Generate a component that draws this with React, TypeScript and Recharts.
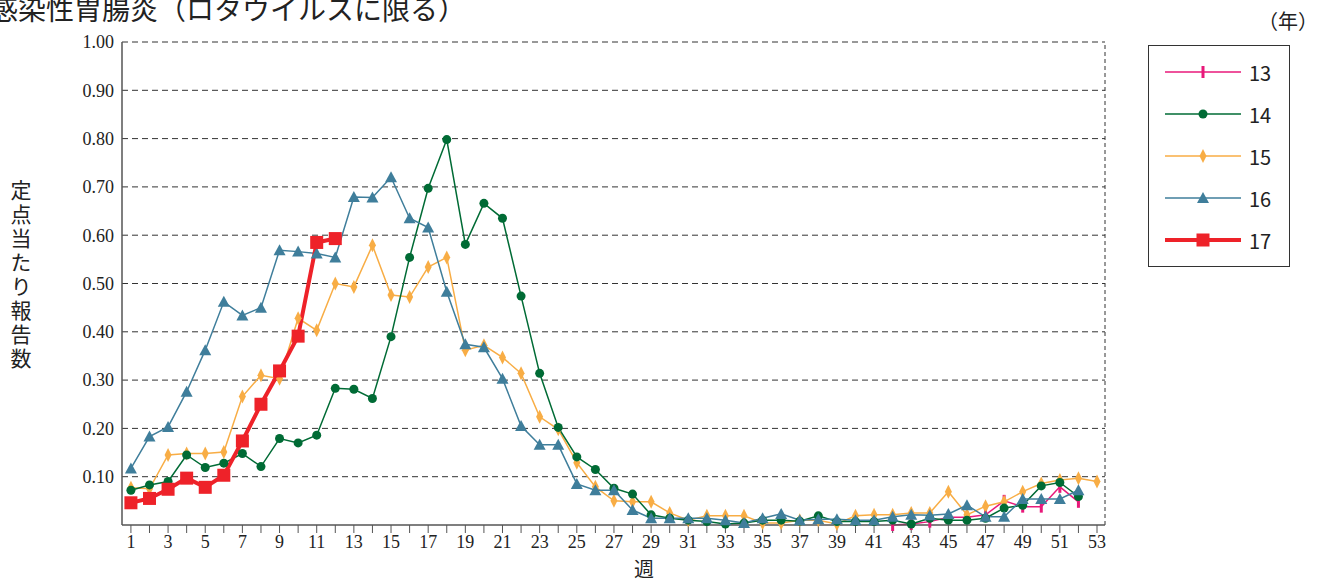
import React from 'react';
import { LineChart, Line, XAxis, YAxis, CartesianGrid, ReferenceLine } from 'recharts';

const weeks = Array.from({ length: 53 }, (_, i) => i + 1);

const y13: (number | null)[] = [
  null, null, null, null, null, null, null, null, null, null,
  null, null, null, null, null, null, null, null, null, null,
  null, null, null, null, null, null, null, null, null, null,
  null, null, null, null, null, null, null, null, null, null,
  null, 0.0, 0.002, 0.007, 0.016, 0.016, 0.021, 0.05, 0.038, 0.038,
  0.079, 0.048, null,
];
const y14: (number | null)[] = [
  0.072, 0.083, 0.09, 0.145, 0.119, 0.128, 0.148, 0.121, 0.179, 0.17,
  0.186, 0.283, 0.281, 0.262, 0.39, 0.554, 0.697, 0.798, 0.581, 0.666,
  0.635, 0.474, 0.314, 0.202, 0.141, 0.115, 0.076, 0.064, 0.021, 0.014,
  0.01, 0.007, 0.002, 0.004, 0.01, 0.01, 0.008, 0.019, 0.007, 0.007,
  0.007, 0.01, 0.002, 0.014, 0.01, 0.01, 0.014, 0.035, 0.041, 0.081,
  0.088, 0.059, null,
];
const y15: (number | null)[] = [
  0.077, 0.075, 0.145, 0.148, 0.148, 0.151, 0.266, 0.31, 0.303, 0.428,
  0.403, 0.5, 0.493, 0.579, 0.476, 0.472, 0.534, 0.554, 0.362, 0.372,
  0.347, 0.314, 0.224, 0.198, 0.129, 0.079, 0.05, 0.048, 0.048, 0.025,
  0.01, 0.019, 0.019, 0.019, 0.004, 0.004, 0.01, 0.01, 0.002, 0.019,
  0.021, 0.021, 0.025, 0.025, 0.069, 0.021, 0.039, 0.048, 0.069, 0.086,
  0.093, 0.097, 0.09,
];
const y16: (number | null)[] = [
  0.117, 0.183, 0.203, 0.276, 0.362, 0.462, 0.434, 0.45, 0.569, 0.566,
  0.562, 0.554, 0.679, 0.678, 0.72, 0.635, 0.616, 0.483, 0.374, 0.368,
  0.303, 0.205, 0.166, 0.166, 0.085, 0.072, 0.072, 0.031, 0.014, 0.014,
  0.014, 0.014, 0.01, 0.004, 0.014, 0.023, 0.01, 0.012, 0.012, 0.01,
  0.01, 0.017, 0.021, 0.02, 0.023, 0.041, 0.017, 0.017, 0.054, 0.054,
  0.054, 0.072, null,
];
const y17: (number | null)[] = [
  0.046, 0.055, 0.074, 0.097, 0.078, 0.103, 0.174, 0.25, 0.319, 0.391,
  0.585, 0.593,
];

const yTicks = [0.1, 0.2, 0.3, 0.4, 0.5, 0.6, 0.7, 0.8, 0.9, 1.0];

const data = weeks.map((w, i) => ({
  week: w,
  s13: y13[i] ?? null,
  s14: y14[i] ?? null,
  s15: y15[i] ?? null,
  s16: y16[i] ?? null,
  s17: y17[i] ?? null,
}));

const C13 = '#e8197a';
const C14 = '#006b35';
const C15 = '#f8ad45';
const C16 = '#3f7e9b';
const C17 = '#ee2229';

const TickDot = ({ cx, cy }: any) =>
  cy == null ? null : <rect x={cx - 1.5} y={cy - 6} width={3} height={12} fill={C13} />;
const CircleDot = ({ cx, cy }: any) =>
  cy == null ? null : <circle cx={cx} cy={cy} r={4.5} fill={C14} />;
const DiamondDot = ({ cx, cy }: any) =>
  cy == null ? null : (
    <polygon points={`${cx},${cy - 7} ${cx + 3.5},${cy} ${cx},${cy + 7} ${cx - 3.5},${cy}`} fill={C15} />
  );
const TriDot = ({ cx, cy }: any) =>
  cy == null ? null : (
    <polygon points={`${cx},${cy - 6} ${cx + 6},${cy + 5} ${cx - 6},${cy + 5}`} fill={C16} />
  );
const SquareDot = ({ cx, cy }: any) =>
  cy == null ? null : <rect x={cx - 6.5} y={cy - 6.5} width={13} height={13} fill={C17} />;

const legendItems = [
  { name: '13', color: C13, width: 1.5, Dot: TickDot },
  { name: '14', color: C14, width: 1.5, Dot: CircleDot },
  { name: '15', color: C15, width: 1.5, Dot: DiamondDot },
  { name: '16', color: C16, width: 1.5, Dot: TriDot },
  { name: '17', color: C17, width: 4, Dot: SquareDot },
];

const sans = '"Noto Sans CJK JP", "Noto Sans", sans-serif';
const serif = '"Liberation Serif", serif';

export default function App() {
  return (
    <div style={{ position: 'absolute', left: 0, top: 0, width: 1319, height: 585, background: '#fff', overflow: 'hidden' }}>
      <div style={{ position: 'absolute', left: -10, top: -12, fontFamily: sans, fontSize: 28, color: '#222', whiteSpace: 'nowrap' }}>
        感染性胃腸炎（ロタウイルスに限る）
      </div>
      <div style={{ position: 'absolute', left: 1258, top: 6, fontFamily: sans, fontSize: 20, color: '#222' }}>（年）</div>
      <div style={{ position: 'absolute', left: 8, top: 180, width: 26, fontFamily: sans, fontSize: 21, lineHeight: '26px', letterSpacing: 3, color: '#222', writingMode: 'vertical-rl' }}>
        定点当たり報告数
      </div>
      <div style={{ position: 'absolute', left: 634, top: 554, fontFamily: sans, fontSize: 20, color: '#222' }}>週</div>

      <LineChart width={1319} height={585} data={data} margin={{ top: 42, right: 214, left: 62, bottom: 30 }}>
        <CartesianGrid horizontal vertical={false} stroke="#333" strokeDasharray="6 4" horizontalValues={yTicks} />
        <ReferenceLine x={53.43} stroke="#333" strokeDasharray="4 3" />
        <XAxis
          dataKey="week"
          type="number"
          domain={[0.52, 53.43]}
          ticks={weeks}
          interval={0}
          tickFormatter={(v: number) => (v % 2 === 1 ? String(v) : '')}
          tick={{ fill: '#222', fontSize: 18, fontFamily: serif }}
          axisLine={{ stroke: '#555', strokeWidth: 1.5 }}
          tickLine={{ stroke: '#555' }}
          tickSize={8}
          height={30}
        />
        <YAxis
          type="number"
          domain={[0, 1]}
          ticks={yTicks}
          tickFormatter={(v: number) => v.toFixed(2)}
          tick={{ fill: '#222', fontSize: 18, fontFamily: serif }}
          axisLine={{ stroke: '#555', strokeWidth: 1.5 }}
          tickLine={false}
          width={60}
        />
        <Line dataKey="s13" stroke={C13} strokeWidth={1.5} dot={<TickDot />} isAnimationActive={false} />
        <Line dataKey="s15" stroke={C15} strokeWidth={1.5} dot={<DiamondDot />} isAnimationActive={false} />
        <Line dataKey="s14" stroke={C14} strokeWidth={1.5} dot={<CircleDot />} isAnimationActive={false} />
        <Line dataKey="s16" stroke={C16} strokeWidth={1.5} dot={<TriDot />} isAnimationActive={false} />
        <Line dataKey="s17" stroke={C17} strokeWidth={4} dot={<SquareDot />} isAnimationActive={false} />
      </LineChart>

      <div style={{ position: 'absolute', left: 1148, top: 45, width: 142, height: 222, border: '1.5px solid #333', boxSizing: 'border-box' }}>
        {legendItems.map((it, i) => (
          <div key={it.name} style={{ position: 'absolute', left: 14, top: 12 + i * 42, height: 28, display: 'flex', alignItems: 'center' }}>
            <svg width={80} height={28}>
              <line x1={2} x2={78} y1={14} y2={14} stroke={it.color} strokeWidth={it.width} />
              <it.Dot cx={40} cy={14} />
            </svg>
            <span style={{ fontFamily: sans, fontSize: 20, color: '#222', marginLeft: 6 }}>{it.name}</span>
          </div>
        ))}
      </div>
    </div>
  );
}
